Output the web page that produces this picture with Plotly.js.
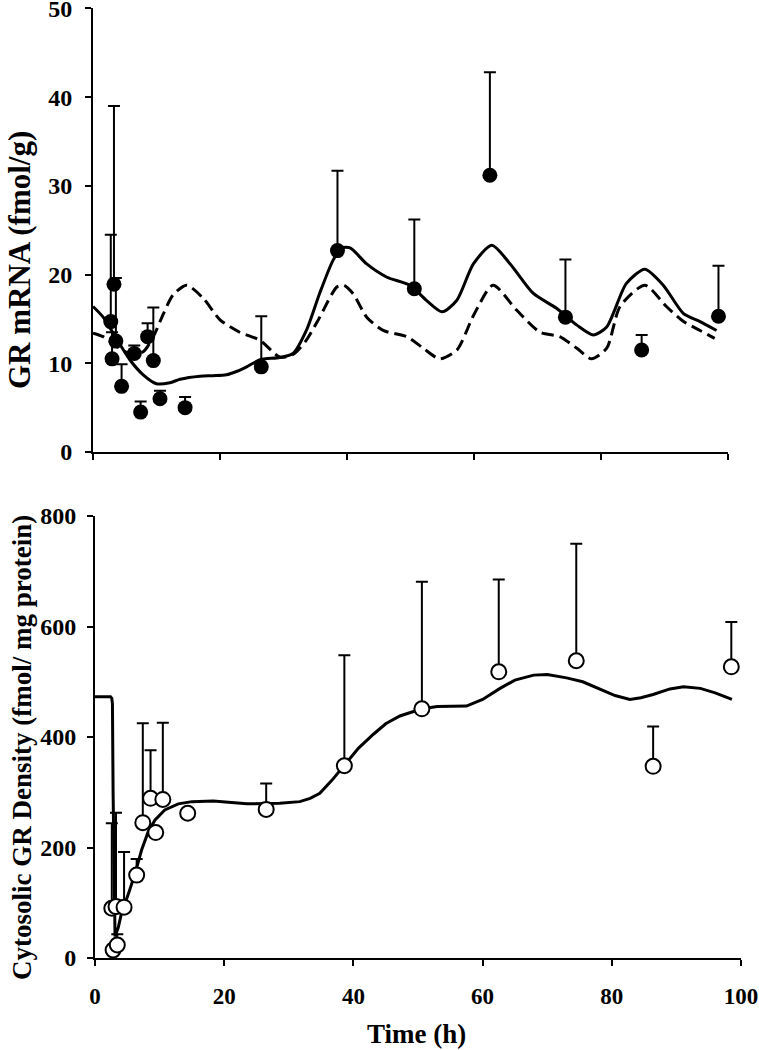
<!DOCTYPE html>
<html>
<head>
<meta charset="utf-8">
<script src="https://cdn.plot.ly/plotly-3.0.1.min.js"></script>
<style>html,body{margin:0;padding:0;background:#fff;overflow:hidden;}#chart{width:759px;height:1070px;margin-top:-20px;}</style>
</head>
<body>
<div id="chart"></div>
<script>
// ---- Top panel: GR mRNA (fmol/g) ----
const mrnaTime = [2.8, 3.3, 3.6, 3.0, 4.5, 6.5, 7.5, 8.6, 9.5, 10.55, 14.5, 26.5, 38.5, 50.6, 62.5, 74.4, 86.4, 98.5];
const mrnaValue = [14.7, 18.9, 12.5, 10.5, 7.4, 11.1, 4.5, 13.0, 10.3, 6.0, 5.0, 9.6, 22.7, 18.4, 31.2, 15.2, 11.5, 15.3];
const mrnaErrUp = [9.8, 20.1, 7.1, 3.0, 2.5, 0.9, 1.2, 1.5, 6.0, 0.9, 1.2, 5.7, 9.0, 7.8, 11.6, 6.5, 1.7, 5.7];

const mrnaSolidTime = [0, 1.6, 3.5, 5.8, 7.9, 10, 12.1, 13.7, 16.85, 19, 21, 22.7, 24.2, 26.3, 29.4, 31.5, 33.6, 35.7, 37.8, 39.2, 40.5, 43.1, 46.3, 49.9, 52.5, 55, 57.3, 59.9, 62.8, 65.7, 69.3, 73, 76.2, 78.8, 80.9, 84, 86.9, 89.8, 93, 95.6, 98.2];
const mrnaSolidValue = [16.4, 15.2, 13.0, 10.4, 8.7, 7.7, 7.8, 8.2, 8.55, 8.6, 8.7, 9.1, 9.6, 10.4, 10.65, 11.1, 13.7, 17.9, 21.6, 23.0, 23.0, 21.2, 19.7, 18.8, 17.1, 15.8, 17.1, 21.2, 23.3, 21.2, 17.9, 16.2, 14.3, 13.2, 14.1, 19.0, 20.6, 18.8, 15.6, 14.7, 13.7];

const mrnaDashTime = [0, 1.6, 3.7, 5.8, 7.9, 9.5, 11.1, 12.6, 14.75, 17.4, 20, 23.1, 26.3, 29.4, 31.5, 33.6, 35.7, 38.4, 39.5, 41, 43.1, 45.7, 49.4, 52, 54.6, 57.3, 60, 63, 66.7, 70.4, 73.5, 76.2, 78.5, 80.9, 83, 86.9, 90.3, 93, 95.6, 97.9];
const mrnaDashValue = [13.4, 13.0, 11.9, 11.1, 11.3, 13.0, 15.6, 17.7, 18.8, 17.3, 14.9, 13.5, 12.6, 10.7, 11.0, 12.6, 15.2, 18.6, 18.8, 17.8, 15.2, 13.7, 13.0, 11.7, 10.5, 11.5, 15.5, 18.8, 16.0, 13.5, 13.0, 11.7, 10.5, 11.7, 16.4, 18.8, 16.4, 14.7, 13.7, 12.8];

// ---- Bottom panel: Cytosolic GR density (fmol/ mg protein) ----
const grTime = [2.6, 3.25, 4.5, 2.8, 3.45, 6.45, 7.4, 8.6, 9.4, 10.5, 14.35, 26.5, 38.6, 50.6, 62.5, 74.5, 86.4, 98.5];
const grValue = [90, 93, 92, 14.5, 23.5, 150, 245, 289, 227, 287, 262, 269, 348, 451, 518, 538, 347, 527];
const grErrUp = [154, 170, 100, 0, 19.5, 29, 180, 87, 0, 139, 0, 47, 200, 230, 167, 212, 72, 81];

const grModelTime = [0, 2.4, 2.6, 2.7, 2.8, 2.95, 3.1, 3.6, 4.1, 5.2, 6.2, 7.2, 8.25, 9.3, 10.8, 12.9, 15, 18.3, 23.5, 28.6, 31.7, 33.3, 34.8, 36.7, 38.6, 40.8, 43.1, 45, 47.2, 50.6, 53, 57.5, 60, 62.7, 65, 67.9, 70, 73, 75.5, 78.2, 80.5, 82.8, 84.5, 86.4, 89, 91.1, 93.7, 96, 98.6];
const grModelValue = [473, 473, 470, 460, 300, 110, 39, 55, 81, 117, 153, 195, 229, 250, 268, 279, 283, 284, 279, 280, 283, 289, 298, 322, 348, 380, 405, 424, 438, 451, 455, 456, 468, 488, 503, 512, 513, 507, 500, 486, 475, 468, 471, 477, 487, 491, 488, 480, 468];

const xTicks = [0, 20, 40, 60, 80, 100];
const yTicksTop = [0, 10, 20, 30, 40, 50];
const yTicksBottom = [0, 200, 400, 600, 800];

const W = 759, OFF = 20, H = 1050 + OFF;
const fy = py => (H - (py + OFF)) / H; // window pixel row -> paper fraction
const serif = "'Liberation Serif', 'Times New Roman', serif";
const tfY = {family: serif, size: 24, color: '#000', weight: 'bold'};
const tfX = {family: serif, size: 23, color: '#000', weight: 'bold'};

const traces = [
  {x: mrnaDashTime, y: mrnaDashValue, type: 'scatter', mode: 'lines', xaxis: 'x', yaxis: 'y',
   line: {color: '#000', width: 3, dash: '12px,6px', shape: 'spline', smoothing: 0.7}, hoverinfo: 'skip'},
  {x: mrnaSolidTime, y: mrnaSolidValue, type: 'scatter', mode: 'lines', xaxis: 'x', yaxis: 'y',
   line: {color: '#000', width: 3, shape: 'spline', smoothing: 0.7}, hoverinfo: 'skip'},
  {x: mrnaTime, y: mrnaValue, type: 'scatter', mode: 'markers', xaxis: 'x', yaxis: 'y',
   marker: {color: '#000', size: 15, line: {width: 0}},
   error_y: {type: 'data', symmetric: false, array: mrnaErrUp, arrayminus: mrnaTime.map(() => 0), color: '#000', thickness: 2, width: 6}},
  {x: grModelTime, y: grModelValue, type: 'scatter', mode: 'lines', xaxis: 'x2', yaxis: 'y2',
   line: {color: '#000', width: 3}, hoverinfo: 'skip'},
  {x: grTime, y: grValue, type: 'scatter', mode: 'markers', xaxis: 'x2', yaxis: 'y2',
   marker: {color: '#fff', size: 15, line: {width: 2, color: '#000'}},
   error_y: {type: 'data', symmetric: false, array: grErrUp, arrayminus: grTime.map(() => 0), color: '#000', thickness: 2, width: 6}}
];

const axisCommon = {showgrid: false, zeroline: false, showline: true, linecolor: '#000', linewidth: 2,
  ticks: 'outside', ticklen: 6, tickwidth: 2, tickcolor: '#000', fixedrange: true};

const layout = {
  width: W, height: H, showlegend: false,
  margin: {l: 0, r: 0, t: 0, b: 0},
  paper_bgcolor: '#fff', plot_bgcolor: 'rgba(0,0,0,0)',
  xaxis: Object.assign({}, axisCommon, {domain: [93 / W, 728 / W], range: [0, 100], tickvals: xTicks, showticklabels: false, anchor: 'y'}),
  yaxis: Object.assign({}, axisCommon, {domain: [fy(452), fy(8.4)], range: [0, 50], tickvals: yTicksTop, tickfont: tfY, ticklabelstandoff: 8, anchor: 'x'}),
  xaxis2: Object.assign({}, axisCommon, {domain: [95 / W, 741 / W], range: [0, 100], tickvals: xTicks, tickfont: tfX, ticklabelstandoff: 10, anchor: 'y2'}),
  yaxis2: Object.assign({}, axisCommon, {domain: [fy(958), fy(516)], range: [0, 800], tickvals: yTicksBottom, tickfont: tfY, ticklabelstandoff: 6, anchor: 'x2'}),
  annotations: [
    {text: 'GR mRNA (fmol/g)', xref: 'paper', yref: 'paper', x: 19 / W, y: fy(260), showarrow: false, textangle: -90,
     xanchor: 'center', yanchor: 'middle', font: {family: serif, size: 31, color: '#000', weight: 'bold'}},
    {text: 'Cytosolic GR Density (fmol/ mg protein)', xref: 'paper', yref: 'paper', x: 22 / W, y: fy(748), showarrow: false, textangle: -90,
     xanchor: 'center', yanchor: 'middle', font: {family: serif, size: 27, color: '#000', weight: 'bold'}},
    {text: 'Time (h)', xref: 'paper', yref: 'paper', x: 416 / W, y: fy(1034), showarrow: false,
     xanchor: 'center', yanchor: 'middle', font: {family: serif, size: 27, color: '#000', weight: 'bold'}}
  ]
};

Plotly.newPlot('chart', traces, layout, {displayModeBar: false, staticPlot: true});
</script>
</body>
</html>
